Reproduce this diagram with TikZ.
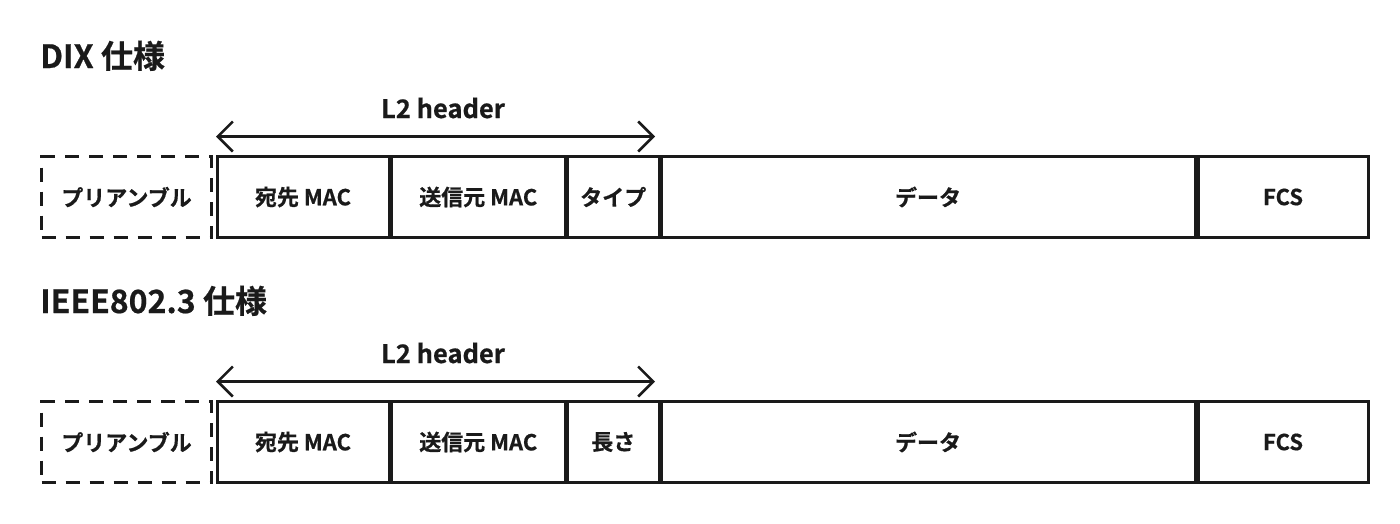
\documentclass[tikz,border=0pt]{standalone}
\usepackage{fontspec}
\setmainfont{Noto Sans CJK JP Bold}[FakeBold=0.6]
\usetikzlibrary{arrows.meta}
\definecolor{ink}{HTML}{1A1A1A}
\tikzset{
  field/.style={draw=ink, line width=3pt, rectangle, inner sep=0pt, minimum height=81pt, text=ink, font=\fontsize{22}{26}\selectfont},
  prebox/.style={field, dash pattern=on 14pt off 10pt},
  title/.style={anchor=base west, inner sep=0pt, text=ink, font=\fontsize{32}{38}\selectfont},
  hdrlabel/.style={anchor=base, inner sep=0pt, text=ink, font=\fontsize{25.5}{30}\selectfont},
  span/.style={draw=ink, line width=2.5pt, {Straight Barb[length=15pt,width=30pt]}-{Straight Barb[length=15pt,width=30pt]}}
}
\newcommand\ethrow[4]{% #1 suffix, #2 centre y, #3 third field, #4 title
  \node[title] (t#1) at (40,#2-129) {#4};
  \node[prebox, minimum width=170pt] (pre#1) at (126.5,#2) {プリアンブル};
  \node[field, minimum width=172pt] (dst#1) at (303,#2) {宛先 MAC};
  \node[field, minimum width=173.5pt] (src#1) at (478.25,#2) {送信元 MAC};
  \node[field, minimum width=91.5pt] (typ#1) at (613.25,#2) {#3};
  \node[field, minimum width=534pt] (dat#1) at (928,#2) {データ};
  \node[field, minimum width=170pt] (fcs#1) at (1283,#2) {FCS};
  \coordinate (hs#1) at (216,#2-60.5);
  \coordinate (he#1) at (655,#2-60.5);
  \draw[span] (hs#1) -- (he#1);
  \node[hdrlabel] (h#1) at (443,#2-79) {L2 header};
}
\begin{document}
\begin{tikzpicture}[x=1pt,y=-1pt]
  \useasboundingbox (0,0) rectangle (1400,523);
  \ethrow{a}{197}{タイプ}{DIX 仕様}
  \ethrow{b}{442}{長さ}{IEEE802.3 仕様}
\end{tikzpicture}
\end{document}
